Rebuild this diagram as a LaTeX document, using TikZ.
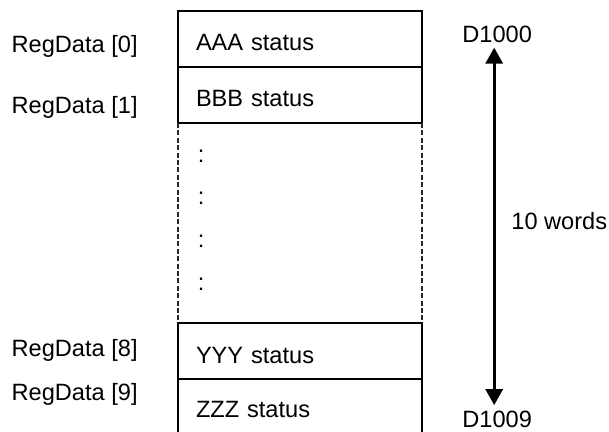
\documentclass[tikz,border=0pt]{standalone}
\usepackage{fontspec}
\setmainfont{Liberation Sans}
\usepackage{tikz}
\usetikzlibrary{arrows.meta, positioning}

\begin{document}
\begin{tikzpicture}[
  x=0.5pt, y=-0.5pt,
  every node/.style={font=\fontsize{11.8}{14}\selectfont},
  cell/.style={rectangle, draw=black, line width=1pt, outer sep=0pt,
               minimum width=122pt, minimum height=28pt, inner xsep=9pt,
               text width=104pt, text height=12pt, text depth=0pt, align=left},
  reg/.style={inner sep=0pt, anchor=base east},
  tag/.style={inner sep=0pt, anchor=base west},
  gapline/.style={draw=black!85, line width=0.8pt, dash pattern=on 2.5pt off 1.2pt},
  wall/.style={draw=black, line width=1pt},
  ar/.style={{Triangle[length=8pt, width=8.5pt]}-{Triangle[length=8pt, width=8.5pt]}, line width=1.5pt},
  node distance=0pt
]
  \useasboundingbox (0,0) rectangle (609,432);

  % register rows
  \node[cell] (a0) at (300,39) {AAA status};
  \node[cell, below=of a0] (a1) {BBB status};
  \node[cell, below=100pt of a1] (a8) {YYY status};
  \node[cell, draw=none, minimum height=26.5pt, below=of a8] (a9) {ZZZ status};
  \draw[wall] (a9.north west) -- (a9.south west) (a9.north east) -- (a9.south east);

  % omitted rows
  \draw[gapline] (a1.south west) -- (a8.north west);
  \draw[gapline] (a1.south east) -- (a8.north east);
  \foreach \y [count=\i] in {163,205,248,291}
    \node[tag] (d\i) at (197.4,\y) {:};

  % array indices
  \node[reg] (r0) at (138,53) {RegData [0]};
  \node[reg] (r1) at (138,114) {RegData [1]};
  \node[reg] (r8) at (138,356) {RegData [8]};
  \node[reg] (r9) at (138,400) {RegData [9]};

  % device range
  \node[tag] (hi) at (462,43) {D1000};
  \node[tag] (lo) at (462,427) {D1009};
  \node[tag] (len) at (511,230) {10 words};
  \draw[ar] ([xshift=-1.5pt, yshift=-2pt]hi.south) -- ([xshift=-1.5pt, yshift=2.5pt]lo.north);
\end{tikzpicture}
\end{document}
